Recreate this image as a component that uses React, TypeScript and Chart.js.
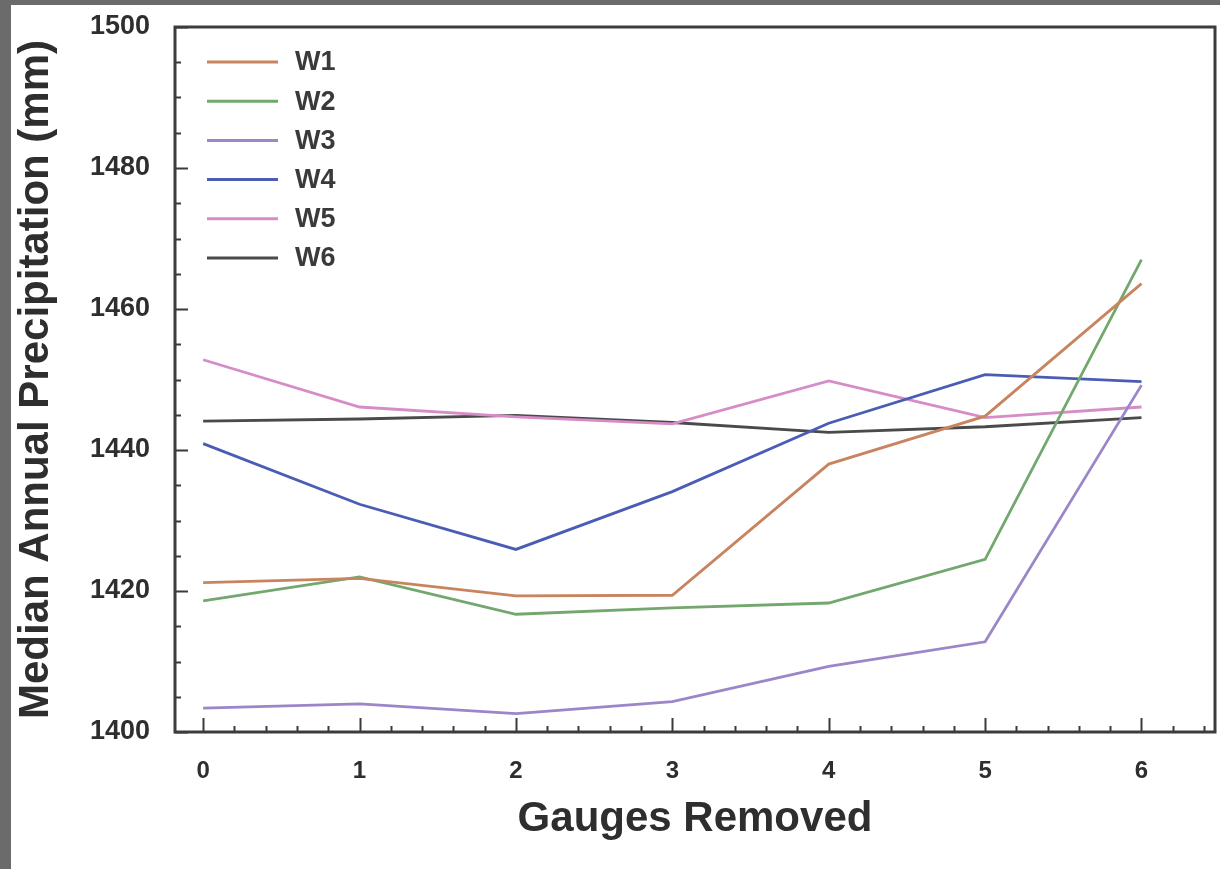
import React, { useEffect, useRef } from "react";
import { Chart, registerables } from "chart.js";

Chart.register(...registerables);

// ---- data ----
const gaugesRemoved = [0, 1, 2, 3, 4, 5, 6];
const seriesNames = ["W1", "W2", "W3", "W4", "W5", "W6"];
const w1 = [1421.2, 1421.8, 1419.3, 1419.4, 1438.0, 1444.8, 1463.6];
const w2 = [1418.6, 1422.0, 1416.7, 1417.6, 1418.3, 1424.5, 1467.0];
const w3 = [1403.4, 1404.0, 1402.6, 1404.3, 1409.3, 1412.8, 1449.2];
const w4 = [1440.9, 1432.3, 1425.9, 1434.1, 1443.8, 1450.7, 1449.7];
const w5 = [1452.8, 1446.1, 1444.7, 1443.7, 1449.8, 1444.6, 1446.1];
const w6 = [1444.1, 1444.4, 1444.9, 1443.9, 1442.5, 1443.3, 1444.6];
const xTickValues = [0, 1, 2, 3, 4, 5, 6];
const yTickValues = [1400, 1420, 1440, 1460, 1480, 1500];
const xTitle = "Gauges Removed";
const yTitle = "Median Annual Precipitation (mm)";

const seriesValues = [w1, w2, w3, w4, w5, w6];
const seriesColors = ["#c8845f", "#72a86e", "#9a86c8", "#4a5cb4", "#d68cc6", "#4a4a4a"];

const FONT = "'Liberation Sans', Arial, Helvetica, sans-serif";
const TEXT = "#2e2e2e";

const framePlugin = {
  id: "frameAndLegend",
  afterDraw(chart: any) {
    const { ctx, chartArea: a, scales } = chart;
    const xs = scales.x;
    const ys = scales.y;
    ctx.save();
    // inward ticks
    ctx.strokeStyle = "#3a3a3a";
    ctx.lineWidth = 2;
    ctx.beginPath();
    for (let v = ys.min; v <= ys.max + 1e-6; v += 5) {
      const py = Math.round(ys.getPixelForValue(v)) + 0.5;
      const len = Math.abs(v % 20) < 1e-6 ? 13 : 6;
      ctx.moveTo(a.left, py);
      ctx.lineTo(a.left + len, py);
    }
    for (let i = -5; i <= 40; i++) {
      const v = i * 0.2;
      if (v < xs.min || v > xs.max) continue;
      const px = Math.round(xs.getPixelForValue(v)) + 0.5;
      const len = i % 5 === 0 ? 14 : 6;
      ctx.moveTo(px, a.bottom);
      ctx.lineTo(px, a.bottom - len);
    }
    ctx.stroke();
    // frame
    ctx.lineWidth = 3;
    ctx.strokeStyle = "#3c3c3c";
    ctx.strokeRect(a.left, a.top, a.right - a.left, a.bottom - a.top);
    // legend (inside, top-left)
    const ds = chart.data.datasets;
    ctx.font = `bold 27px ${FONT}`;
    ctx.textBaseline = "middle";
    ctx.textAlign = "left";
    for (let i = 0; i < ds.length; i++) {
      const yy = a.top + 35 + i * 39.2;
      ctx.strokeStyle = ds[i].borderColor;
      ctx.lineWidth = 3;
      ctx.beginPath();
      ctx.moveTo(a.left + 32, yy);
      ctx.lineTo(a.left + 103, yy);
      ctx.stroke();
      ctx.fillStyle = "#3a3a3a";
      ctx.fillText(ds[i].label, a.left + 120, yy + 1);
    }
    ctx.restore();
  },
};

export default function App() {
  const ref = useRef<HTMLCanvasElement | null>(null);

  useEffect(() => {
    document.body.style.margin = "0";
    const canvas = ref.current;
    if (!canvas) return;
    const chart = new Chart(canvas, {
      type: "line",
      data: {
        datasets: seriesNames.map((name, i) => ({
          label: name,
          data: gaugesRemoved.map((g, j) => ({ x: g, y: seriesValues[i][j] })),
          borderColor: seriesColors[i],
          backgroundColor: seriesColors[i],
          borderWidth: 2.8,
          pointRadius: 0,
          tension: 0,
          fill: false,
        })),
      },
      options: {
        responsive: false,
        animation: false,
        events: [],
        layout: { padding: { top: 22, right: 5, left: 0, bottom: 0 } },
        plugins: {
          legend: { display: false },
          tooltip: { enabled: false },
          title: { display: false },
        },
        scales: {
          x: {
            type: "linear",
            min: -0.18,
            max: 6.47,
            afterBuildTicks: (s: any) => {
              s.ticks = xTickValues.map((v) => ({ value: v }));
            },
            afterFit: (s: any) => {
              s.height = 137;
              s.paddingLeft = 0;
              s.paddingRight = 0;
            },
            grid: { display: false, drawTicks: false, tickLength: 0 },
            border: { display: false },
            ticks: {
              padding: 25,
              color: TEXT,
              font: { family: FONT, size: 24, weight: "bold" },
              callback: (v: any) => String(v),
            },
            title: {
              display: true,
              text: xTitle,
              color: TEXT,
              font: { family: FONT, size: 42, weight: "bold" },
              padding: { top: 0, bottom: 24 },
            },
          },
          y: {
            type: "linear",
            min: 1400,
            max: 1500,
            afterBuildTicks: (s: any) => {
              s.ticks = yTickValues.map((v) => ({ value: v }));
            },
            afterFit: (s: any) => {
              s.width = 164;
              s.paddingTop = 0;
              s.paddingBottom = 0;
            },
            grid: { display: false, drawTicks: false, tickLength: 0 },
            border: { display: false },
            ticks: {
              padding: 25,
              color: TEXT,
              font: { family: FONT, size: 27, weight: "bold" },
              callback: (v: any) => String(v),
            },
            title: {
              display: true,
              text: yTitle,
              color: TEXT,
              font: { family: FONT, size: 42, weight: "bold" },
              padding: { top: 0, bottom: 0 },
            },
          },
        },
      },
      plugins: [framePlugin],
    });
    return () => chart.destroy();
  }, []);

  return (
    <div style={{ position: "fixed", inset: 0, background: "#6b6b6b" }}>
      <div
        style={{
          position: "absolute",
          left: 11,
          top: 5,
          width: 1209,
          height: 864,
          background: "#ffffff",
        }}
      >
        <canvas ref={ref} width={1209} height={864} style={{ display: "block" }} />
      </div>
    </div>
  );
}
